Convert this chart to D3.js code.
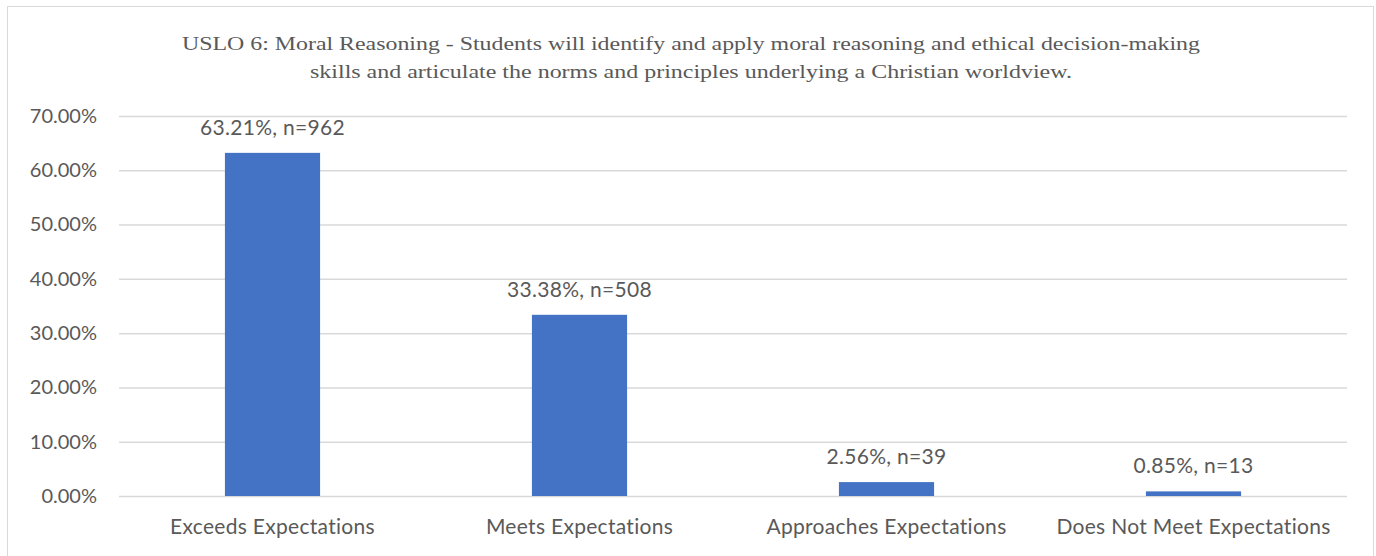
<!DOCTYPE html>
<html>
	<head>
		<style>
			body { margin: 0; background: #fff; }
			text { fill: #595959; }
			.tick text { font: 20px Lato, sans-serif; fill: #595959; }
			.xaxis .tick text { font-size: 21px; letter-spacing: 0.3px; }
		</style>
	</head>
	<body>
		<script src="https://cdn.jsdelivr.net/npm/d3@7/dist/d3.min.js"></script>
		<script>
			var categories = ["Exceeds Expectations", "Meets Expectations", "Approaches Expectations", "Does Not Meet Expectations"];
			var percents = [0.6321, 0.3338, 0.0256, 0.0085];
			var counts = [962, 508, 39, 13];
			var yTicks = [0, 0.1, 0.2, 0.3, 0.4, 0.5, 0.6, 0.7];
			var titleLines = [
				"USLO 6: Moral Reasoning - Students will  identify  and apply moral  reasoning and ethical  decision-making",
				"skills  and articulate  the norms and principles  underlying  a Christian  worldview."
			];

			var width = 1376, height = 556;
			var margin = {left: 119, right: 29, top: 116, bottom: 60};

			var svg = d3.select('body').append('svg')
				.attr('width', width)
				.attr('height', height);

			// chart border
			svg.append('rect')
				.attr('x', 7.5).attr('y', 6.5)
				.attr('width', 1366).attr('height', 560)
				.attr('fill', 'none')
				.attr('stroke', '#d9d9d9');

			var x = d3.scaleBand()
				.domain(categories)
				.range([margin.left, width - margin.right])
				.paddingInner(0.69)
				.paddingOuter(0.345);

			var y = d3.scaleLinear()
				.domain([0, 0.7])
				.range([496, 116]);

			// gridlines
			svg.append('g').selectAll('line')
				.data(yTicks)
				.enter().append('line')
				.attr('x1', margin.left)
				.attr('x2', width - margin.right)
				.attr('y1', function(d) { return y(d) + 0.5; })
				.attr('y2', function(d) { return y(d) + 0.5; })
				.attr('stroke', '#d9d9d9')
				.attr('stroke-width', 1.5);

			var yAxis = svg.append('g')
				.attr('transform', 'translate(' + (margin.left - 22) + ',0)')
				.call(d3.axisLeft(y).tickValues(yTicks).tickFormat(d3.format('.2%')).tickSize(0).tickPadding(0));
			yAxis.select('.domain').remove();

			var xAxis = svg.append('g')
				.attr('class', 'xaxis')
				.attr('transform', 'translate(0,' + 496 + ')')
				.call(d3.axisBottom(x).tickSize(0).tickPadding(23));
			xAxis.select('.domain').remove();

			var data = categories.map(function(c, i) { return {cat: c, p: percents[i], n: counts[i]}; });

			svg.append('g').selectAll('rect')
				.data(data)
				.enter().append('rect')
				.attr('x', function(d) { return x(d.cat); })
				.attr('width', x.bandwidth())
				.attr('y', function(d) { return y(d.p); })
				.attr('height', function(d) { return y(0) - y(d.p); })
				.attr('fill', '#4472c4');

			svg.append('g').selectAll('text')
				.data(data)
				.enter().append('text')
				.attr('x', function(d) { return x(d.cat) + x.bandwidth() / 2; })
				.attr('y', function(d) { return y(d.p) - 18; })
				.attr('text-anchor', 'middle')
				.style('font', '21px Lato, sans-serif')
				.style('letter-spacing', '0.3px')
				.text(function(d) { return d3.format('.2%')(d.p) + ', n=' + d.n; });

			// title
			var titleW = [1018, 762];
			svg.append('g').selectAll('text')
				.data(titleLines)
				.enter().append('text')
				.attr('x', 691)
				.attr('y', function(d, i) { return 50 + i * 28; })
				.attr('text-anchor', 'middle')
				.attr('textLength', function(d, i) { return titleW[i]; })
				.attr('lengthAdjust', 'spacingAndGlyphs')
				.style('font', '19px "Liberation Serif", serif')
				.text(function(d) { return d; });
		</script>
	</body>
</html>
